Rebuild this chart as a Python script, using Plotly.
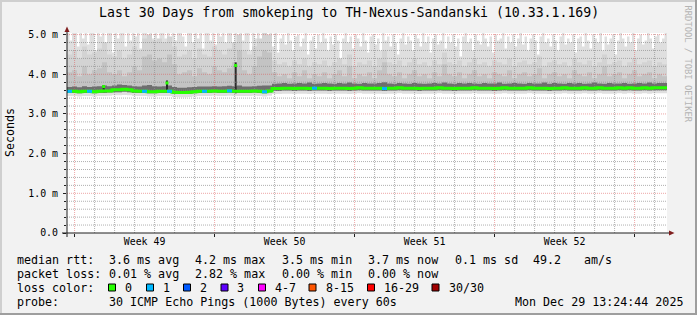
import plotly.graph_objects as go
from datetime import datetime, timedelta

# ---------------- data (values in ms) ----------------
TITLE = "Last 30 Days from smokeping to TH-Nexus-Sandanski (10.33.1.169)"
range_start = datetime(2025, 11, 29, 14, 53)
range_days = 30
step6 = 6   # hours per bin for most series
step3 = 3   # hours per bin for the max envelope

median_ms = [3.57, 3.57, 3.56, 3.57, 3.57, 3.56, 3.57, 3.58, 3.58, 3.61,
             3.61, 3.62, 3.61, 3.58, 3.57, 3.57, 3.56, 3.56, 3.57, 3.57,
             3.57, 3.55, 3.54, 3.54, 3.55, 3.56, 3.57, 3.57, 3.57, 3.58,
             3.57, 3.57, 3.58, 3.57, 3.57, 3.57, 3.57, 3.58, 3.57, 3.56,
             3.58,
             3.64, 3.64, 3.65, 3.65, 3.64, 3.65, 3.65, 3.64, 3.65, 3.65,
             3.65, 3.64, 3.65, 3.65, 3.65, 3.64, 3.65, 3.66, 3.65, 3.65,
             3.65, 3.65, 3.64, 3.65, 3.65, 3.66, 3.65, 3.65, 3.65, 3.64,
             3.65, 3.65, 3.65, 3.66, 3.65, 3.65, 3.64, 3.65, 3.65, 3.65,
             3.66, 3.65, 3.65, 3.65, 3.64, 3.65, 3.66, 3.65, 3.65, 3.65,
             3.65, 3.66, 3.65, 3.65, 3.65, 3.64, 3.65, 3.65, 3.66, 3.65,
             3.65, 3.65, 3.66, 3.65, 3.65, 3.66, 3.65, 3.65, 3.65, 3.66,
             3.65, 3.66, 3.65, 3.65, 3.66, 3.65, 3.66, 3.66, 3.66]

loss_bins = [0, 4, 15, 20, 27, 32, 39, 49, 63]
loss_counts = [1, 1, 1, 1, 1, 1, 1, 1, 1]

smoke_min = [3.45, 3.45, 3.44, 3.45, 3.45, 3.44, 3.45, 3.45, 3.46, 3.47,
             3.47, 3.48, 3.47, 3.45, 3.45, 3.45, 3.44, 3.44, 3.45, 3.45,
             3.45, 3.43, 3.42, 3.42, 3.43, 3.44, 3.45, 3.45, 3.45, 3.46,
             3.45, 3.45, 3.46, 3.45, 3.45, 3.45, 3.45, 3.46, 3.45, 3.44,
             3.46,
             3.50, 3.50, 3.51, 3.51, 3.50, 3.51, 3.51, 3.50, 3.51, 3.51,
             3.51, 3.50, 3.51, 3.51, 3.51, 3.50, 3.51, 3.52, 3.51, 3.51,
             3.51, 3.51, 3.50, 3.51, 3.51, 3.52, 3.51, 3.51, 3.51, 3.50,
             3.51, 3.51, 3.51, 3.52, 3.51, 3.51, 3.50, 3.51, 3.51, 3.51,
             3.52, 3.51, 3.51, 3.51, 3.50, 3.51, 3.52, 3.51, 3.51, 3.51,
             3.51, 3.52, 3.51, 3.51, 3.51, 3.50, 3.51, 3.51, 3.52, 3.51,
             3.51, 3.51, 3.52, 3.51, 3.51, 3.52, 3.51, 3.51, 3.51, 3.52,
             3.51, 3.52, 3.51, 3.51, 3.52, 3.51, 3.52, 3.52, 3.52]

smoke_low = [3.53, 3.53, 3.52, 3.53, 3.53, 3.52, 3.53, 3.53, 3.54, 3.55,
             3.55, 3.56, 3.55, 3.53, 3.53, 3.53, 3.52, 3.52, 3.53, 3.53,
             3.53, 3.51, 3.50, 3.50, 3.51, 3.52, 3.53, 3.53, 3.53, 3.54,
             3.53, 3.53, 3.54, 3.53, 3.53, 3.53, 3.53, 3.54, 3.53, 3.52,
             3.54,
             3.58, 3.58, 3.59, 3.59, 3.58, 3.59, 3.59, 3.58, 3.59, 3.59,
             3.59, 3.58, 3.59, 3.59, 3.59, 3.58, 3.59, 3.60, 3.59, 3.59,
             3.59, 3.59, 3.58, 3.59, 3.59, 3.60, 3.59, 3.59, 3.59, 3.58,
             3.59, 3.59, 3.59, 3.60, 3.59, 3.59, 3.58, 3.59, 3.59, 3.59,
             3.60, 3.59, 3.59, 3.59, 3.58, 3.59, 3.60, 3.59, 3.59, 3.59,
             3.59, 3.60, 3.59, 3.59, 3.59, 3.58, 3.59, 3.59, 3.60, 3.59,
             3.59, 3.59, 3.60, 3.59, 3.59, 3.60, 3.59, 3.59, 3.59, 3.60,
             3.59, 3.60, 3.59, 3.59, 3.60, 3.59, 3.60, 3.60, 3.60]

smoke_dark_top = [3.68, 3.69, 3.67, 3.70, 3.68, 3.69, 3.70, 3.72, 3.70, 3.72,
                  3.74, 3.73, 3.72, 3.70, 3.69, 3.72, 3.73, 3.70, 3.69, 3.70,
                  3.72, 3.68, 3.66, 3.66, 3.67, 3.68, 3.69, 3.69, 3.69, 3.70,
                  3.69, 3.70, 3.71, 3.70, 3.72, 3.69, 3.69, 3.70, 3.71, 3.72,
                  3.72,
                  3.76, 3.77, 3.78, 3.76, 3.77, 3.78, 3.77, 3.79, 3.76, 3.77,
                  3.78, 3.77, 3.76, 3.78, 3.77, 3.79, 3.77, 3.76, 3.78, 3.77,
                  3.77, 3.78, 3.80, 3.77, 3.76, 3.78, 3.77, 3.76, 3.78, 3.77,
                  3.76, 3.77, 3.78, 3.77, 3.79, 3.77, 3.76, 3.78, 3.77, 3.78,
                  3.77, 3.76, 3.78, 3.77, 3.77, 3.79, 3.76, 3.77, 3.78, 3.77,
                  3.76, 3.78, 3.77, 3.77, 3.79, 3.76, 3.78, 3.77, 3.76, 3.78,
                  3.77, 3.78, 3.76, 3.77, 3.79, 3.77, 3.76, 3.78, 3.77, 3.77,
                  3.78, 3.76, 3.77, 3.78, 3.77, 3.79, 3.77, 3.78, 3.78]

smoke_p80 = [4.05, 4.10, 3.95, 4.20, 4.00, 4.10, 4.15, 4.30, 4.05, 4.00,
             4.10, 3.95, 4.05, 4.20, 4.10, 4.45, 4.50, 4.35, 4.40, 4.30,
             4.50, 4.25, 4.00, 4.05, 4.10, 3.95, 4.15, 4.05, 4.00, 4.20,
             4.10, 4.05, 4.15, 4.30, 4.60, 4.10, 4.00, 4.20, 4.45, 4.60,
             4.55,
             4.05, 3.95, 4.00, 3.90, 4.05, 3.95, 4.10, 3.90, 4.00, 3.95,
             4.05, 3.90, 4.00, 4.10, 3.95, 4.20, 3.90, 4.00, 3.95, 4.05,
             3.90, 4.10, 4.30, 4.00, 3.95, 4.05, 3.90, 4.00, 4.10, 3.95,
             4.00, 3.90, 4.05, 3.95, 4.25, 4.00, 3.95, 4.05, 3.90, 4.00,
             4.10, 3.95, 4.00, 3.90, 4.05, 4.00, 3.95, 4.10, 3.90, 4.00,
             4.05, 3.95, 4.00, 4.15, 3.90, 4.00, 4.05, 3.95, 4.00, 3.90,
             4.10, 4.00, 3.95, 4.05, 3.90, 4.00, 4.20, 3.95, 4.00, 4.05,
             3.90, 4.00, 4.10, 3.95, 4.00, 4.05, 3.90, 4.00, 3.95]

smoke_p90 = [4.50, 4.60, 4.40, 4.70, 4.50, 4.55, 4.65, 4.80, 4.50, 4.45,
             4.60, 4.40, 4.50, 4.70, 4.60, 4.90, 5.00, 4.85, 4.90, 4.80,
             4.95, 4.70, 4.45, 4.50, 4.60, 4.40, 4.65, 4.50, 4.45, 4.70,
             4.60, 4.50, 4.65, 4.80, 5.00, 4.60, 4.50, 4.70, 4.90, 5.10,
             5.00,
             4.35, 4.25, 4.30, 4.20, 4.35, 4.25, 4.40, 4.20, 4.30, 4.25,
             4.35, 4.20, 4.30, 4.40, 4.25, 4.50, 4.20, 4.30, 4.25, 4.35,
             4.20, 4.40, 4.60, 4.30, 4.25, 4.35, 4.20, 4.30, 4.40, 4.25,
             4.30, 4.20, 4.35, 4.25, 4.55, 4.30, 4.25, 4.35, 4.20, 4.30,
             4.40, 4.25, 4.30, 4.20, 4.35, 4.30, 4.25, 4.40, 4.20, 4.30,
             4.35, 4.25, 4.30, 4.45, 4.20, 4.30, 4.35, 4.25, 4.30, 4.20,
             4.40, 4.30, 4.25, 4.35, 4.20, 4.30, 4.50, 4.25, 4.30, 4.35,
             4.20, 4.30, 4.40, 4.25, 4.30, 4.35, 4.20, 4.30, 4.25]

smoke_max = [5.1, 4.85, 5.1, 5.1, 4.7, 5.1, 4.9, 5.1, 4.75, 5.1,
             5.1, 4.6, 5.1, 4.95, 5.1, 4.8, 5.1, 5.1, 4.55, 5.1,
             4.9, 5.1, 5.1, 4.7, 5.1, 4.85, 5.1, 4.95, 5.1, 4.65,
             5.1, 5.1, 4.8, 5.1, 4.9, 5.1, 4.75, 5.1, 5.1, 4.9,
             5.1, 4.6, 5.1, 4.85, 5.1, 5.1, 4.95, 4.7, 5.1, 5.1,
             4.8, 5.1, 4.9, 5.1, 4.65, 5.1, 5.1, 4.85, 5.1, 4.75,
             5.1, 4.95, 5.1, 4.8, 5.1, 5.1, 4.7, 5.1, 4.9, 5.1,
             4.85, 5.1, 5.1, 4.6, 5.1, 4.9, 5.1, 4.8, 5.1, 5.1,
             4.95, 5.1,
             4.7, 5.1, 4.55, 4.9, 5.0, 4.75, 5.1, 4.85, 4.6, 4.95,
             5.0, 4.7, 4.9, 5.1, 4.5, 4.85, 4.95, 4.65, 5.0, 4.8,
             5.1, 4.9, 4.6, 4.95, 4.75, 5.0, 4.85, 4.4, 4.9, 5.1,
             4.8, 4.95, 4.65, 5.0, 4.9, 4.7, 5.1, 4.85, 4.55, 4.95,
             5.0, 4.75, 4.9, 4.6, 5.1, 4.85, 4.95, 4.7, 5.0, 4.8,
             4.5, 4.9, 5.1, 4.75, 4.95, 4.85, 4.6, 5.0, 4.9, 4.7,
             5.1, 4.8, 4.95, 4.55, 4.9, 5.0, 4.75, 4.85, 5.1, 4.65,
             4.95, 4.8, 5.0, 4.7, 4.9, 4.45, 4.95, 5.1, 4.8, 4.9,
             4.6, 5.0, 4.85, 4.75, 5.1, 4.9, 4.7, 4.95, 4.55, 5.0,
             4.85, 4.9, 5.1, 4.65, 4.95, 4.8, 5.0, 4.7, 4.9, 5.1,
             4.75, 4.95, 4.6, 4.9, 5.0, 4.85, 4.5, 4.95, 5.1, 4.8,
             4.9, 4.7, 5.0, 4.85, 4.6, 4.95, 5.1, 4.75, 4.9, 4.8,
             5.0, 4.55, 4.9, 4.95, 4.7, 5.1, 4.85, 4.65, 5.0, 4.9,
             4.8, 5.1, 4.6, 4.95, 4.75, 4.9, 5.0, 4.5, 4.85, 5.1,
             4.9, 4.7, 4.95, 4.8, 5.1, 4.6, 4.9, 5.0, 4.75, 4.85,
             5.1, 4.9, 4.65, 4.95, 5.0, 4.8, 4.9, 5.1]

spike_hours = [44.0, 120.0, 202.4]
spike_low = [3.55, 3.55, 3.52]
spike_high = [3.72, 3.84, 4.30]
spike_median = [3.69, 3.78, 4.22]

week_starts = ["2025-11-30", "2025-12-07", "2025-12-14", "2025-12-21", "2025-12-28"]
week_labels = ["Week 49", "Week 50", "Week 51", "Week 52"]
y_tick_vals = [0, 1, 2, 3, 4, 5]
y_tick_text = ["0.0", "1.0 m", "2.0 m", "3.0 m", "4.0 m", "5.0 m"]
y_top = 5.04

loss_legend = ["0", "1", "2", "3", "4-7", "8-15", "16-29", "30/30"]
loss_colors = ["#26ff00", "#00b8ff", "#0059ff", "#5e00ff", "#ff00ff", "#ff5500", "#ff0000", "#a00000"]

row_rtt = ["median rtt:", "3.6 ms avg", "4.2 ms max", "3.5 ms min", "3.7 ms now", "0.1 ms sd", "49.2", "am/s"]
row_loss = ["packet loss:", "0.01 % avg", "2.82 % max", "0.00 % min", "0.00 % now"]
row_probe = ["probe:", "30 ICMP Echo Pings (1000 Bytes) every 60s"]
timestamp = "Mon Dec 29 13:24:44 2025"
watermark = "RRDTOOL / TOBI OETIKER"

# ---------------- layout geometry (pixels) ----------------
W, H = 697, 315
PL, PR, PT, PB = 67, 667, 33, 233
MONO = "DejaVu Sans Mono"


def px(x):
    return (x - PL) / (PR - PL)


def py(y):
    return (PB - y) / (PB - PT)


range_end = range_start + timedelta(days=range_days)


def step_x(n, hours):
    return [range_start + timedelta(hours=hours * i) for i in range(n + 1)]


def step_y(v):
    return list(v) + [v[-1]]


fig = go.Figure()


def band(lx, ly, ux, uy, color):
    fig.add_trace(go.Scatter(x=lx, y=ly, mode="lines", line=dict(width=0, shape="hv"),
                             hoverinfo="skip", showlegend=False))
    fig.add_trace(go.Scatter(x=ux, y=uy, mode="lines", line=dict(width=0, shape="hv"),
                             fill="tonexty", fillcolor=color, hoverinfo="skip", showlegend=False))


x6 = step_x(len(median_ms), step6)
x3 = step_x(len(smoke_max), step3)
band(step_x(len(smoke_min), step6), step_y(smoke_min), x3, step_y(smoke_max), "#dfdfdf")
band(step_x(len(smoke_low), step6), step_y(smoke_low), step_x(len(smoke_p90), step6), step_y(smoke_p90), "#d3d3d3")
band(step_x(len(smoke_low), step6), step_y(smoke_low), step_x(len(smoke_p80), step6), step_y(smoke_p80), "#c3c3c3")
band(step_x(len(smoke_low), step6), step_y(smoke_low), step_x(len(smoke_dark_top), step6), step_y(smoke_dark_top), "#6e6e6e")

# spikes (dense high pings)
sx, sy = [], []
for h, lo, hi in zip(spike_hours, spike_low, spike_high):
    t = range_start + timedelta(hours=h)
    sx += [t, t, None]
    sy += [lo, hi, None]
fig.add_trace(go.Scatter(x=sx, y=sy, mode="lines", line=dict(width=2, color="#2a2a2a"),
                         hoverinfo="skip", showlegend=False))

# grid drawn over the smoke
week_dt = [datetime.fromisoformat(w) for w in week_starts]
first_day = week_dt[0] - timedelta(days=7)
gx, gy, rx, ry = [], [], [], []
d = first_day
while d <= range_end:
    if range_start <= d <= range_end:
        if d in week_dt:
            rx += [d, d, None]; ry += [0, y_top, None]
        else:
            gx += [d, d, None]; gy += [0, y_top, None]
    d += timedelta(days=1)
for k in range(1, 26):
    v = k * 0.2
    if k % 5 == 0:
        rx += [range_start, range_end, None]; ry += [v, v, None]
    else:
        gx += [range_start, range_end, None]; gy += [v, v, None]
fig.add_trace(go.Scatter(x=gx, y=gy, mode="lines", line=dict(width=1, color="rgba(143,143,143,0.7)", dash="1px,1px"),
                         hoverinfo="skip", showlegend=False))
fig.add_trace(go.Scatter(x=rx, y=ry, mode="lines", line=dict(width=1, color="rgba(222,79,79,0.5)", dash="1px,1px"),
                         hoverinfo="skip", showlegend=False))

# median line coloured by loss
fig.add_trace(go.Scatter(x=x6, y=step_y(median_ms), mode="lines", line=dict(width=3, color=loss_colors[0], shape="hv"),
                         hoverinfo="skip", showlegend=False))
for cnt_cls, col in [(1, loss_colors[1]), (2, loss_colors[2]), (3, loss_colors[3])]:
    bx, by = [], []
    for b, c in zip(loss_bins, loss_counts):
        if c == cnt_cls:
            bx += [x6[b], x6[b + 1], None]
            by += [median_ms[b], median_ms[b], None]
    if bx:
        fig.add_trace(go.Scatter(x=bx, y=by, mode="lines", line=dict(width=3, color=col),
                                 hoverinfo="skip", showlegend=False))
fig.add_trace(go.Scatter(x=[range_start + timedelta(hours=h) for h in spike_hours], y=spike_median,
                         mode="markers", marker=dict(symbol="square", size=3, color=loss_colors[0], line=dict(width=0)),
                         hoverinfo="skip", showlegend=False))

week_mid = [w + timedelta(days=3.5) for w in week_dt[:len(week_labels)]]

fig.update_layout(
    width=W, height=H,
    margin=dict(l=PL, r=W - PR, t=PT, b=H - PB),
    paper_bgcolor="#f2f2f2", plot_bgcolor="#ffffff",
    showlegend=False,
    font=dict(family=MONO, color="#000000"),
    xaxis=dict(type="date", range=[range_start, range_end], showgrid=False, zeroline=False, showline=False,
               tickmode="array", tickvals=week_mid, ticktext=week_labels, ticks="",
               tickfont=dict(family=MONO, size=9.9, color="#000000"), ticklabelstandoff=1,
               minor=dict(tickmode="array", tickvals=week_dt, ticks="outside", ticklen=3,
                          tickcolor="#1f1f1f", showgrid=False)),
    yaxis=dict(range=[0, y_top], showgrid=False, zeroline=False, showline=False,
               tickmode="array", tickvals=y_tick_vals, ticktext=y_tick_text,
               ticks="outside", ticklen=3, tickcolor="#1f1f1f",
               tickfont=dict(family=MONO, size=9.9, color="#000000"), ticklabelstandoff=3,
               minor=dict(tickmode="linear", tick0=0, dtick=0.2, ticks="outside", ticklen=2,
                          tickcolor="#1f1f1f", showgrid=False)),
)

shapes = []
# frame
shapes.append(dict(type="line", xref="paper", yref="paper", x0=px(0), x1=px(W), y0=py(1), y1=py(1),
                   line=dict(color="#cfcfcf", width=2)))
shapes.append(dict(type="line", xref="paper", yref="paper", x0=px(1), x1=px(1), y0=py(0), y1=py(H),
                   line=dict(color="#cfcfcf", width=2)))
shapes.append(dict(type="line", xref="paper", yref="paper", x0=px(0), x1=px(W), y0=py(H - 1), y1=py(H - 1),
                   line=dict(color="#9e9e9e", width=2)))
shapes.append(dict(type="line", xref="paper", yref="paper", x0=px(W - 1), x1=px(W - 1), y0=py(0), y1=py(H),
                   line=dict(color="#9e9e9e", width=2)))
# axes with arrows
shapes.append(dict(type="line", xref="paper", yref="paper", x0=px(62), x1=px(670), y0=0, y1=0,
                   line=dict(color="#1f1f1f", width=1), layer="above"))
shapes.append(dict(type="line", xref="paper", yref="paper", x0=0, x1=0, y0=py(237), y1=py(30),
                   line=dict(color="#1f1f1f", width=1), layer="above"))
shapes.append(dict(type="path", xref="paper", yref="paper",
                   path=f"M {px(669)} {py(230.5)} L {px(674.5)} {py(233)} L {px(669)} {py(235.5)} Z",
                   fillcolor="#801f1f", line=dict(width=0), layer="above"))
shapes.append(dict(type="path", xref="paper", yref="paper",
                   path=f"M {px(64.5)} {py(32)} L {px(67)} {py(26.5)} L {px(69.5)} {py(32)} Z",
                   fillcolor="#801f1f", line=dict(width=0), layer="above"))

annotations = []


def text(x, y, s, size=11.66, xanchor="left", color="#000000", angle=0):
    annotations.append(dict(x=px(x), y=py(y), xref="paper", yref="paper", text=s, showarrow=False,
                            xanchor=xanchor, yanchor="middle", borderpad=0, textangle=angle,
                            font=dict(family=MONO, size=size, color=color)))


text(W / 2, 13, TITLE, size=13.2, xanchor="center")
text(10, 133, "Seconds", size=11.66, xanchor="center", angle=-90)
text(687, 63.5, watermark, size=8.8, xanchor="center", color="#b4b4b4", angle=90)

rows_y = [259.5, 273.5, 287.5, 301.5]
rtt_x = [16, 108, 193.5, 280.5, 366.5, 453.5, 531.5, 583]
for x, s in zip(rtt_x, row_rtt):
    text(x, rows_y[0], s)
loss_x = [16, 108, 193.5, 280.5, 366.5]
for x, s in zip(loss_x, row_loss):
    text(x, rows_y[1], s)
text(16, rows_y[2], "loss color:")
box_x = [108.5, 146.5, 183.5, 221, 258.5, 309, 367.5, 432]
for bxp, lab, col in zip(box_x, loss_legend, loss_colors):
    shapes.append(dict(type="rect", xref="paper", yref="paper", x0=px(bxp), x1=px(bxp + 7),
                       y0=py(rows_y[2] - 3.5), y1=py(rows_y[2] + 3.5),
                       fillcolor=col, line=dict(color="#000000", width=1)))
    text(bxp + 15.5, rows_y[2], lab)
text(16, rows_y[3], row_probe[0])
text(108, rows_y[3], row_probe[1])
text(683.5, rows_y[3], timestamp, xanchor="right")

fig.update_layout(shapes=shapes, annotations=annotations)
fig.write_html("out.html")
